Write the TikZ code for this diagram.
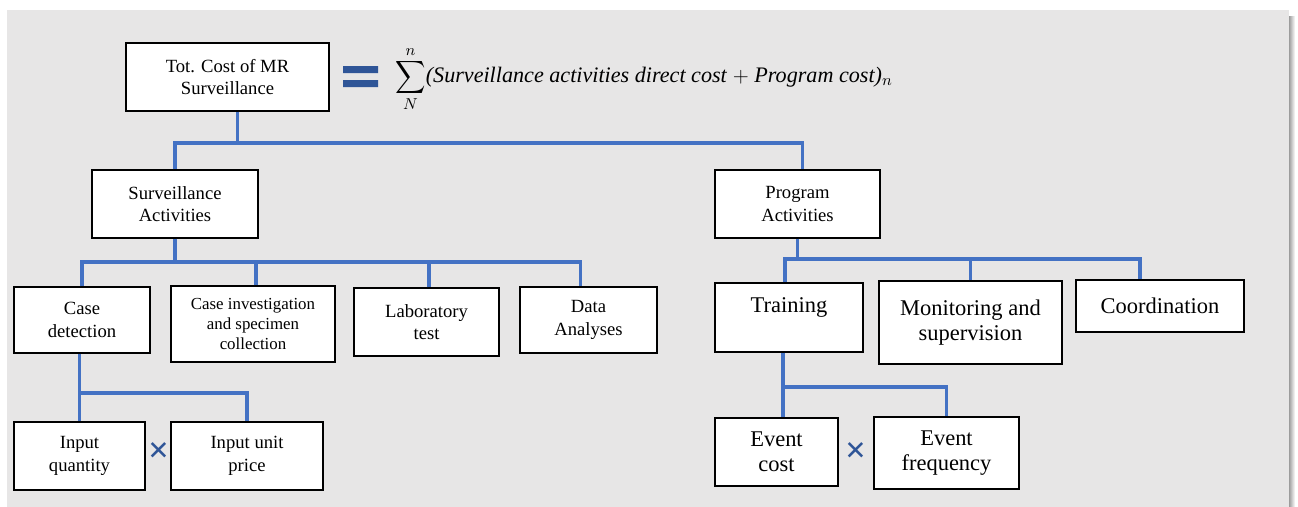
\documentclass[tikz,border=0pt]{standalone}
\usepackage{fontspec}
\setmainfont{Liberation Serif}
\usepackage{xcolor}
\definecolor{cPanel}{HTML}{E7E6E6}
\definecolor{cLink} {HTML}{4472C4}
\definecolor{cMark} {HTML}{2F5597}
\usepackage{tikz}
\usetikzlibrary{positioning, calc}
\newcommand{\fsmall}{\fontsize{9.6}{11.4}\selectfont}
\newcommand{\fnorm} {\fontsize{10.6}{12.8}\selectfont}
\newcommand{\fbig}  {\fontsize{12.8}{14}\selectfont}
\newcommand{\bigsum}{\mathop{\vcenter{\hbox{\scalebox{1.2}[1.3]{$\displaystyle\sum$}}}}}
\tikzset{
  box/.style  = {rectangle, draw=black, line width=0.7pt, fill=white,
                 align=center, inner sep=1pt, font=\fnorm},
  link/.style = {draw=cLink, line width=2.2pt},
  times/.style = {text=cMark, font=\fontsize{21}{21}\selectfont\bfseries,
                  inner sep=0pt},
}

\begin{document}
\begin{tikzpicture}[x=0.02cm, y=-0.02cm]

  \useasboundingbox (0,0) rectangle (1298,507);
  \fill[white] (0,0) rectangle (1298,507);
  \shade[left color=black!45, right color=white] (1288,16) rectangle (1295,507);
  \fill[cPanel] (7,10) rectangle (1289,507);

  % top line: total cost and its formula
  \node[box, minimum width=4.06cm, minimum height=1.36cm] (tot) at (227.5,77)
        {Tot. Cost of MR\\Surveillance};
  \fill[cMark] (343,66) rectangle (378,73) (343,80) rectangle (378,87);
  \node[anchor=west, inner sep=0pt, font=\fontsize{12.6}{14}\selectfont] (eq) at (395,79)
        {$\displaystyle\bigsum\limits_{N}^{n}$\textit{(Surveillance activities direct cost} $+$ \textit{Program cost)}$_n$};

  \node[box, minimum width=3.32cm, minimum height=1.36cm] (surv) at (175,204)
        {Surveillance\\Activities};
  \node[box, minimum width=3.30cm, minimum height=1.36cm] (prog) at (797.5,204)
        {Program\\Activities};

  \node[box, minimum width=2.72cm, minimum height=1.32cm] (casedet) at (82,320)
        {Case\\detection};
  \node[box, minimum width=3.28cm, minimum height=1.52cm, font=\fsmall] (caseinv) at (253,324)
        {Case investigation\\and specimen\\collection};
  \node[box, minimum width=2.90cm, minimum height=1.36cm] (lab) at (426.5,322)
        {Laboratory\\test};
  \node[box, minimum width=2.74cm, minimum height=1.32cm] (data) at (588.5,320)
        {Data\\Analyses};

  \node[box, minimum width=2.96cm, minimum height=1.38cm, font=\fbig] (train) at (789,317.5)
        {Training\\~};
  \node[box, minimum width=3.66cm, minimum height=1.66cm, font=\fbig] (mon) at (970.5,322.5)
        {Monitoring and\\supervision};
  \node[box, minimum width=3.36cm, minimum height=1.04cm, font=\fbig] (coord) at (1160,306)
        {Coordination};

  \node[box, minimum width=2.62cm, minimum height=1.36cm] (inqty) at (79.5,456)
        {Input\\quantity};
  \node[box, minimum width=3.04cm, minimum height=1.36cm] (inprice) at (247,456)
        {Input unit\\price};
  \node[times] (x1) at (159,453) {×};

  \node[box, minimum width=2.46cm, minimum height=1.36cm, font=\fbig] (evcost) at (776.5,452)
        {Event\\cost};
  \node[box, minimum width=2.90cm, minimum height=1.44cm, font=\fbig] (evfreq) at (946.5,453)
        {Event\\frequency};
  \node[times] (x2) at (856,453) {×};

  % bus levels
  \coordinate (b0) at (0,143);
  \coordinate (b1) at (0,262);
  \coordinate (b2) at (0,259);
  \coordinate (b3) at (0,393);
  \coordinate (b4) at (0,387);

  \draw[link] ([xshift=0.2cm]tot.south) -- ([xshift=0.2cm]tot.south |- b0);
  \draw[link] (surv.north) -- (surv.north |- b0) -| ([xshift=0.1cm]prog.north);

  \draw[link] (surv.south) -- (surv.south |- b1);
  \draw[link] (casedet.north) -- (casedet.north |- b1) -| ([xshift=-0.16cm]data.north);
  \draw[link] ([xshift=0.06cm]caseinv.north) -- ([xshift=0.06cm]caseinv.north |- b1);
  \draw[link] ([xshift=0.05cm]lab.north) -- ([xshift=0.05cm]lab.north |- b1);

  \draw[link] (prog.south) -- (prog.south |- b2);
  \draw[link] ([xshift=-0.08cm]train.north) -- ([xshift=-0.08cm]train.north |- b2)
              -| ([xshift=-0.4cm]coord.north);
  \draw[link] (mon.north) -- (mon.north |- b2);

  \draw[link] (inqty.north |- casedet.south) -- (inqty.north);
  \draw[link] (inqty.north |- b3) -| (inprice.north);

  \draw[link] ([xshift=0.13cm]evcost.north |- train.south) -- ([xshift=0.13cm]evcost.north);
  \draw[link] ([xshift=0.13cm]evcost.north |- b4) -| (evfreq.north);

\end{tikzpicture}
\end{document}
